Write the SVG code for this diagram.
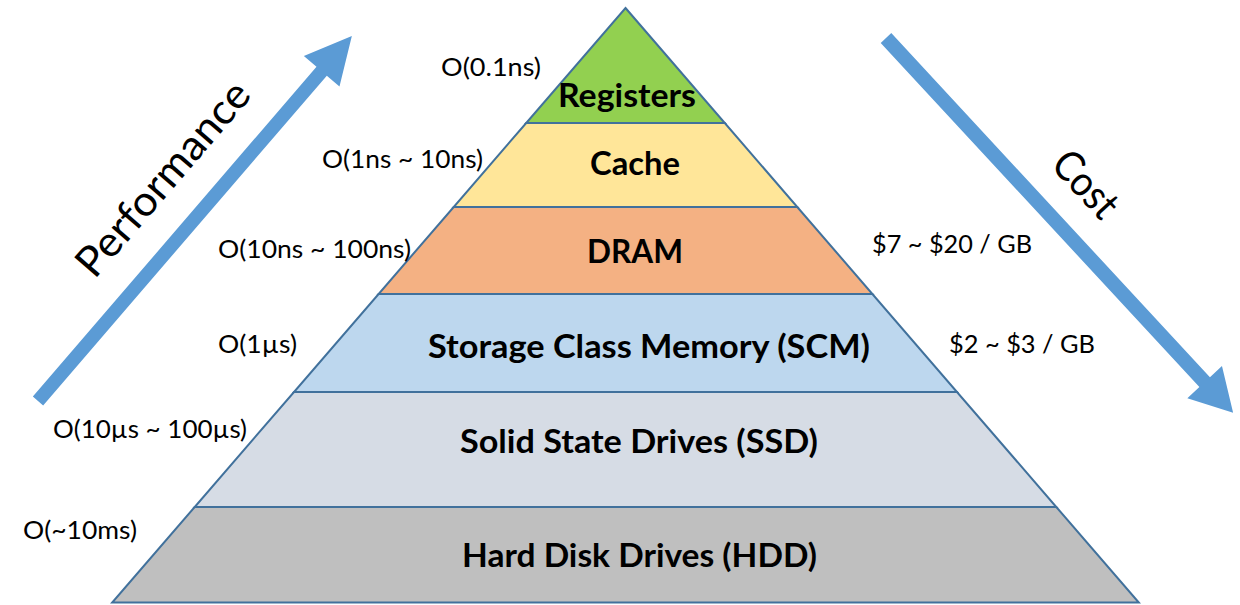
<svg xmlns="http://www.w3.org/2000/svg" width="1240" height="605" viewBox="0 0 1240 605">
<style>
.layer{stroke:#41719C;stroke-width:2;stroke-linejoin:miter}
.big{font-family:Lato,"Open Sans","Liberation Sans",sans-serif;font-weight:bold;font-size:32px;fill:#000;text-anchor:middle}
.small{font-family:Lato,"Open Sans","Liberation Sans",sans-serif;font-size:25px;fill:#000}
.axis{font-family:Lato,"Open Sans","Liberation Sans",sans-serif;font-size:42px;fill:#000;text-anchor:middle}
.arrow{fill:#5B9BD5}
</style>
<rect width="1240" height="605" fill="#fff"/>
<g id="pyramid">
<g id="registers">
<polygon class="layer" fill="#92D050" points="625.5,8 724.8,123 526.2,123"/>
<text class="big" x="627" y="107" textLength="138" lengthAdjust="spacingAndGlyphs">Registers</text>
</g>
<g id="cache">
<polygon class="layer" fill="#FFE699" points="526.2,123 724.8,123 797.3,207 453.7,207"/>
<text class="big" x="635" y="175" textLength="90" lengthAdjust="spacingAndGlyphs">Cache</text>
</g>
<g id="dram">
<polygon class="layer" fill="#F4B183" points="453.7,207 797.3,207 872.4,294 378.6,294"/>
<text class="big" x="635" y="263" textLength="96" lengthAdjust="spacingAndGlyphs">DRAM</text>
</g>
<g id="scm">
<polygon class="layer" fill="#BDD7EE" points="378.6,294 872.4,294 957,392 294,392"/>
<text class="big" x="649" y="358" textLength="442" lengthAdjust="spacingAndGlyphs">Storage Class Memory (SCM)</text>
</g>
<g id="ssd">
<polygon class="layer" fill="#D6DCE5" points="294,392 957,392 1056.3,507 194.7,507"/>
<text class="big" x="639" y="453" textLength="358" lengthAdjust="spacingAndGlyphs">Solid State Drives (SSD)</text>
</g>
<g id="hdd">
<polygon class="layer" fill="#BFBFBF" points="194.7,507 1056.3,507 1138.8,602.5 112.2,602.5"/>
<text class="big" x="639.5" y="567" textLength="355" lengthAdjust="spacingAndGlyphs">Hard Disk Drives (HDD)</text>
</g>
</g>
<g id="latency-labels">
<text class="small" x="441" y="76" textLength="100" lengthAdjust="spacingAndGlyphs">O(0.1ns)</text>
<text class="small" x="322" y="168" textLength="161" lengthAdjust="spacingAndGlyphs">O(1ns ~ 10ns)</text>
<text class="small" x="218" y="258" textLength="193" lengthAdjust="spacingAndGlyphs">O(10ns ~ 100ns)</text>
<text class="small" x="218" y="353" textLength="79" lengthAdjust="spacingAndGlyphs">O(1µs)</text>
<text class="small" x="53" y="438" textLength="194" lengthAdjust="spacingAndGlyphs">O(10µs ~ 100µs)</text>
<text class="small" x="23" y="539" textLength="114" lengthAdjust="spacingAndGlyphs">O(~10ms)</text>
</g>
<g id="cost-labels">
<text class="small" x="872" y="253" textLength="160" lengthAdjust="spacingAndGlyphs">$7 ~ $20 / GB</text>
<text class="small" x="949" y="353" textLength="146" lengthAdjust="spacingAndGlyphs">$2 ~ $3 / GB</text>
</g>
<g id="arrows">
<g id="performance-arrow" transform="translate(38,401) rotate(-49.3)">
<polygon class="arrow" points="0,-6.8 435,-6.8 435,-23.5 481.3,0 435,23.5 435,6.8 0,6.8"/>
<text class="axis" x="250" y="-36" textLength="243" lengthAdjust="spacingAndGlyphs">Performance</text>
</g>
<g id="cost-arrow" transform="translate(886,38) rotate(47.2)">
<polygon class="arrow" points="0,-7.2 469,-7.2 469,-23.6 510.9,0 469,23.6 469,7.2 0,7.2"/>
<text class="axis" x="243" y="-33" textLength="76" lengthAdjust="spacingAndGlyphs">Cost</text>
</g>
</g>
</svg>
